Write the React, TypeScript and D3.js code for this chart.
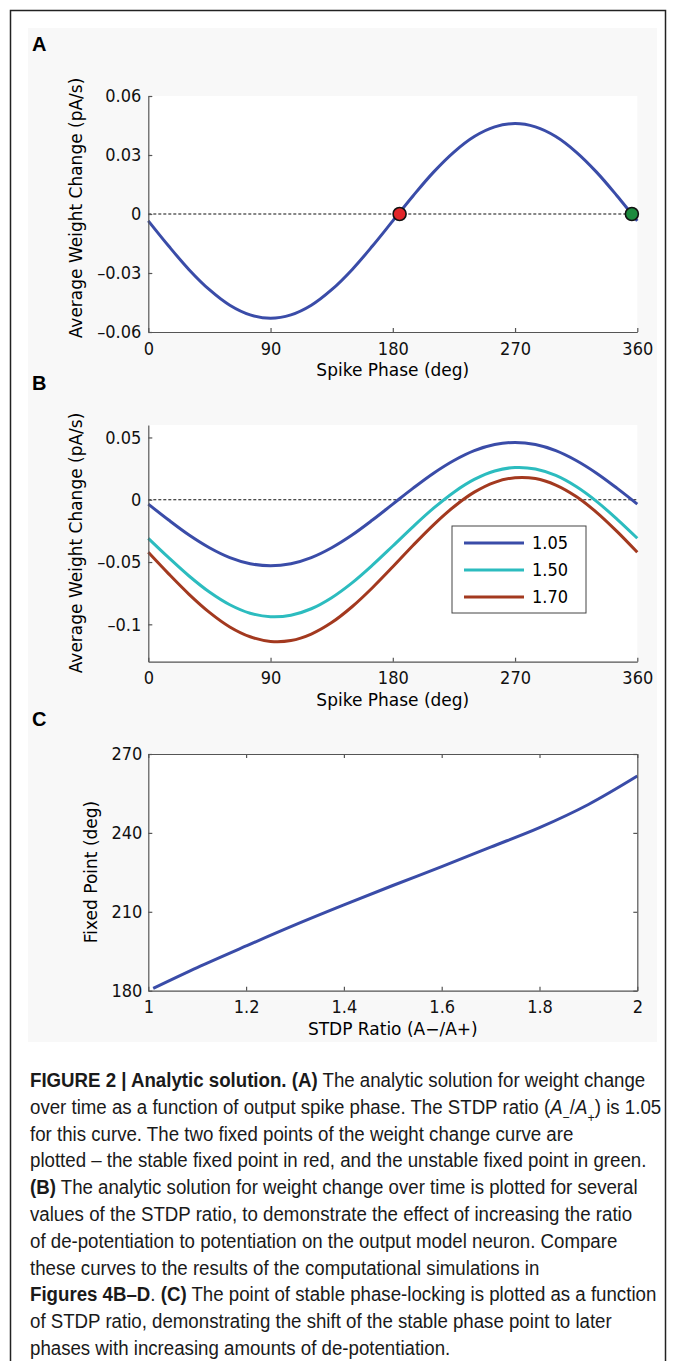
import React, { useEffect, useRef } from 'react';
import * as d3 from 'd3';

// spike phase samples (deg) shared by panels A and B
const phase = [0, 15, 30, 45, 60, 75, 90, 105, 120, 135, 150, 165, 180, 195, 210, 225, 240, 255, 270, 285, 300, 315, 330, 345, 360];
// average weight change (pA/s) for STDP ratio 1.05, 1.50, 1.70
const ratio105 = [-0.0035, -0.0163, -0.0283, -0.0385, -0.0464, -0.0513, -0.053, -0.0513, -0.0464, -0.0385, -0.0283, -0.0163, -0.0035, 0.0093, 0.0213, 0.0315, 0.0394, 0.0443, 0.046, 0.0443, 0.0394, 0.0315, 0.0213, 0.0093, -0.0035];
const ratio150 = [-0.031, -0.0465, -0.0612, -0.0741, -0.0843, -0.0911, -0.0939, -0.0927, -0.0875, -0.0786, -0.0667, -0.0525, -0.0371, -0.0215, -0.0068, 0.0061, 0.0163, 0.0231, 0.0259, 0.0247, 0.0195, 0.0106, -0.0013, -0.0155, -0.0309];
const ratio170 = [-0.0422, -0.0595, -0.0759, -0.0904, -0.1021, -0.11, -0.1137, -0.113, -0.1078, -0.0986, -0.0859, -0.0706, -0.0538, -0.0365, -0.0201, -0.0056, 0.0061, 0.014, 0.0177, 0.017, 0.0118, 0.0026, -0.0101, -0.0254, -0.0422];
const legendLabels = ['1.05', '1.50', '1.70'];
// fixed points of the 1.05 curve: stable (red), unstable (green)
const fixedPointPhase = [185, 356];

// panel C: stable fixed point vs STDP ratio
const stdpRatio = [1.01, 1.1, 1.2, 1.3, 1.4, 1.5, 1.6, 1.7, 1.8, 1.9, 2];
const fixedPointDeg = [180.9, 188.8, 197.0, 205.0, 212.6, 220.0, 227.2, 234.6, 242.0, 250.8, 261.6];

const phaseTicks = [0, 90, 180, 270, 360];
const ticksA = [-0.06, -0.03, 0, 0.03, 0.06];
const ticksB = [-0.1, -0.05, 0, 0.05];
const ratioTicks = [1, 1.2, 1.4, 1.6, 1.8, 2];
const fixedTicks = [180, 210, 240, 270];

const captionLines = [
  [['b', 'FIGURE 2 | Analytic solution. (A)'], ['n', ' The analytic solution for weight change']],
  [['n', 'over time as a function of output spike phase. The STDP ratio ('], ['i', 'A'], ['sub', '−'], ['n', '/'], ['i', 'A'], ['sub', '+'], ['n', ') is 1.05']],
  [['n', 'for this curve. The two fixed points of the weight change curve are']],
  [['n', 'plotted – the stable fixed point in red, and the unstable fixed point in green.']],
  [['b', '(B)'], ['n', ' The analytic solution for weight change over time is plotted for several']],
  [['n', 'values of the STDP ratio, to demonstrate the effect of increasing the ratio']],
  [['n', 'of de-potentiation to potentiation on the output model neuron. Compare']],
  [['n', 'these curves to the results of the computational simulations in']],
  [['b', 'Figures 4B–D'], ['n', '. '], ['b', '(C)'], ['n', ' The point of stable phase-locking is plotted as a function']],
  [['n', 'of STDP ratio, demonstrating the shift of the stable phase point to later']],
  [['n', 'phases with increasing amounts of de-potentiation.']],
];

const FONT = '"DejaVu Sans", sans-serif';
const CAPTION_FONT = '"Liberation Sans", Arial, sans-serif';
const AXIS = '#555';
const BLUE = '#3a4ca8';
const CYAN = '#2cbcbf';
const BROWN = '#a3391f';

const App = () => {
  const plotRef = useRef<SVGGElement>(null);

  useEffect(() => {
    const root = d3.select(plotRef.current);
    root.selectAll('*').remove();

    const X0 = 148.3, X1 = 637.3;
    const x = d3.scaleLinear().domain([0, 360]).range([X0, X1]);
    const yA = d3.scaleLinear().domain([-0.06, 0.06]).range([332, 96]);
    const yB = d3.scaleLinear().domain([-0.13, 0.06]).range([661.7, 425]);
    const xC = d3.scaleLinear().domain([1, 2]).range([X0, X1]);
    const yC = d3.scaleLinear().domain([180, 270]).range([990.7, 754]);

    const styleAxis = (g) => {
      g.attr('font-family', FONT).attr('font-size', 18).attr('font-stretch', 'condensed');
      g.select('.domain').attr('stroke', AXIS).attr('stroke-width', 1.2);
      g.selectAll('.tick line').attr('stroke', AXIS).attr('stroke-width', 1.2);
      g.selectAll('.tick text').attr('fill', '#111');
    };

    // negative tick labels use a short dash like the original
    const dash = (s) => s.replace('−', '–');
    const fmtA = (d) => (d === 0 ? '0' : dash(d3.format('.2f')(d)));
    const fmtG = (d) => dash(d3.format('~g')(d));

    // white axes areas
    [[96, 332], [425, 661.7], [754, 990.7]].forEach(([t, b]) => {
      root.append('rect').attr('x', X0).attr('y', t).attr('width', X1 - X0).attr('height', b - t).attr('fill', '#fff');
    });

    const drawPhasePanel = (y, ticks, fmt, series, colors) => {
      const g = root.append('g');
      g.append('line')
        .attr('x1', x(0)).attr('x2', x(360))
        .attr('y1', y(0)).attr('y2', y(0))
        .attr('stroke', '#111').attr('stroke-width', 1.2).attr('stroke-dasharray', '3,2');

      const line = d3.line().x((d) => x(d[0])).y((d) => y(d[1])).curve(d3.curveCatmullRom.alpha(0.5));
      series.forEach((vals, i) => {
        g.append('path')
          .datum(phase.map((p, j) => [p, vals[j]]))
          .attr('d', line)
          .attr('fill', 'none')
          .attr('stroke', colors[i])
          .attr('stroke-width', 3);
      });

      g.append('g')
        .attr('transform', `translate(${X0},0)`)
        .call(d3.axisLeft(y).tickValues(ticks).tickFormat(fmt).tickSizeInner(-4).tickSizeOuter(0).tickPadding(7))
        .call(styleAxis);
      g.append('g')
        .attr('transform', `translate(0,${y.range()[0]})`)
        .call(d3.axisBottom(x).tickValues(phaseTicks).tickSizeInner(-4).tickSizeOuter(0).tickPadding(10))
        .call(styleAxis);

      const bottom = y.range()[0];
      g.append('text')
        .attr('x', (X0 + X1) / 2).attr('y', bottom + 44)
        .attr('text-anchor', 'middle')
        .attr('font-family', FONT).attr('font-size', 17)
        .text('Spike Phase (deg)');
      return g;
    };

    // Panel A
    const gA = drawPhasePanel(yA, ticksA, fmtA, [ratio105], [BLUE]);
    gA.append('text')
      .attr('transform', 'translate(82,208) rotate(-90)')
      .attr('text-anchor', 'middle')
      .attr('font-family', FONT).attr('font-size', 17)
      .text('Average Weight Change (pA/s)');
    gA.selectAll('.fixed')
      .data(fixedPointPhase)
      .enter()
      .append('circle')
      .attr('cx', (d) => x(d))
      .attr('cy', yA(0))
      .attr('r', 6.5)
      .attr('fill', (d, i) => (i === 0 ? '#e1262a' : '#1c8a3e'))
      .attr('stroke', '#111')
      .attr('stroke-width', 1.6);

    // Panel B
    const gB = drawPhasePanel(yB, ticksB, fmtG, [ratio105, ratio150, ratio170], [BLUE, CYAN, BROWN]);
    gB.append('text')
      .attr('transform', 'translate(82,543) rotate(-90)')
      .attr('text-anchor', 'middle')
      .attr('font-family', FONT).attr('font-size', 17)
      .text('Average Weight Change (pA/s)');

    const legend = gB.append('g').attr('transform', 'translate(452,526)');
    legend.append('rect').attr('width', 134).attr('height', 87).attr('fill', '#fff').attr('stroke', '#444').attr('stroke-width', 1);
    legendLabels.forEach((label, i) => {
      const row = legend.append('g').attr('transform', `translate(0,${17 + i * 27})`);
      row.append('line').attr('x1', 12).attr('x2', 72).attr('stroke', [BLUE, CYAN, BROWN][i]).attr('stroke-width', 3);
      row.append('text').attr('x', 80).attr('dy', '0.36em').attr('font-family', FONT).attr('font-stretch', 'condensed').attr('font-size', 18).text(label);
    });

    // Panel C
    const gC = root.append('g');
    const lineC = d3.line().x((d) => xC(d[0])).y((d) => yC(d[1])).curve(d3.curveCatmullRom.alpha(0.5));
    gC.append('path')
      .datum(stdpRatio.map((r, i) => [r, fixedPointDeg[i]]))
      .attr('d', lineC)
      .attr('fill', 'none')
      .attr('stroke', BLUE)
      .attr('stroke-width', 3);

    gC.append('g')
      .attr('transform', `translate(${X0},0)`)
      .call(d3.axisLeft(yC).tickValues(fixedTicks).tickFormat(fmtG).tickSizeInner(-4).tickSizeOuter(0).tickPadding(6))
      .call(styleAxis);
    gC.append('g')
      .attr('transform', `translate(${X1},0)`)
      .call(d3.axisRight(yC).tickValues(fixedTicks).tickFormat(() => '').tickSizeInner(-4).tickSizeOuter(0))
      .call(styleAxis);
    gC.append('g')
      .attr('transform', `translate(0,${yC.range()[0]})`)
      .call(d3.axisBottom(xC).tickValues(ratioTicks).tickFormat(fmtG).tickSizeInner(-4).tickSizeOuter(0).tickPadding(10))
      .call(styleAxis);
    gC.append('g')
      .attr('transform', `translate(0,${yC.range()[1]})`)
      .call(d3.axisTop(xC).tickValues(ratioTicks).tickFormat(() => '').tickSizeInner(-4).tickSizeOuter(0))
      .call(styleAxis);

    gC.append('text')
      .attr('x', (X0 + X1) / 2).attr('y', yC.range()[0] + 44)
      .attr('text-anchor', 'middle')
      .attr('font-family', FONT).attr('font-size', 17)
      .text('STDP Ratio (A−/A+)');
    gC.append('text')
      .attr('transform', 'translate(97,872) rotate(-90)')
      .attr('text-anchor', 'middle')
      .attr('font-family', FONT).attr('font-size', 17)
      .text('Fixed Point (deg)');
  }, []);

  const segStyle = (kind) => {
    if (kind === 'b') return { fontWeight: 'bold' };
    if (kind === 'i') return { fontStyle: 'italic' };
    return {};
  };

  return (
    <div style={{ position: 'absolute', left: 0, top: 0 }}>
      <svg width={673} height={1361} style={{ display: 'block', background: '#fff' }}>
        <rect x={10.5} y={10.5} width={655} height={1370} fill="#fff" stroke="#222" strokeWidth={1.5} />
        <rect x={28} y={28} width={629} height={1014} fill="#f8f8f8" />
        <g ref={plotRef} />
        {['A', 'B', 'C'].map((letter, i) => (
          <text key={letter} x={32} y={[51, 390, 726][i]} fontFamily='"Liberation Sans", Arial, sans-serif' fontWeight="bold" fontSize={20}>
            {letter}
          </text>
        ))}
        <g transform="translate(30,0) scale(0.958,1)" fontFamily={CAPTION_FONT} fontSize={19.5} fill="#1a1a1a">
          {captionLines.map((segs, i) => (
            <text key={i} x={0} y={1087 + i * 26.8}>
              {segs.map(([kind, txt], j) =>
                kind === 'sub' ? (
                  <tspan key={j} baselineShift="sub" fontSize={13}>{txt}</tspan>
                ) : (
                  <tspan key={j} style={segStyle(kind)}>{txt}</tspan>
                )
              )}
            </text>
          ))}
        </g>
      </svg>
    </div>
  );
};

export default App;
